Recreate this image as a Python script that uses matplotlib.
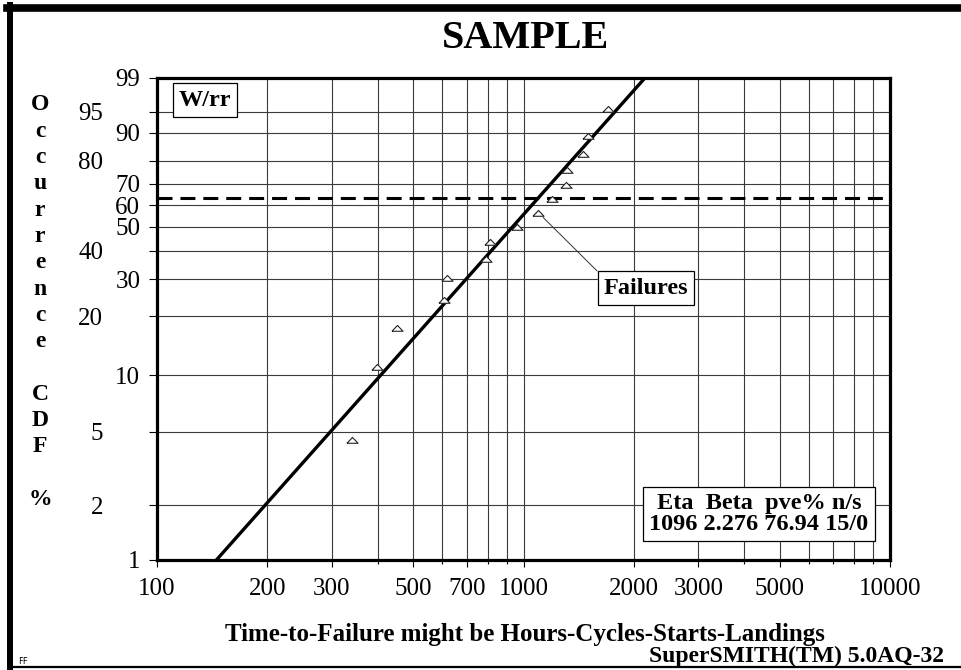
import numpy as np
import matplotlib
matplotlib.use('Agg')
import matplotlib.pyplot as plt
from matplotlib.ticker import NullFormatter, NullLocator
from matplotlib.lines import Line2D

# failure times and median ranks (%)
times = [340, 399, 451, 607, 620, 789, 810, 958, 1097, 1199, 1306, 1317, 1456, 1497, 1703]
ranks = [4.5, 11.0, 17.5, 24.0, 30.5, 37.0, 43.5, 50.0, 56.5, 63.0, 69.5, 76.0, 82.5, 89.0, 95.5]

# fit results
eta = 1096
beta = 2.276
pve = 76.94
n_fail = 15
n_susp = 0

x_ticks = [100, 200, 300, 500, 700, 1000, 2000, 3000, 5000, 10000]
x_minor = [400, 600, 800, 900, 4000, 6000, 7000, 8000, 9000]
y_ticks = [1, 2, 5, 10, 20, 30, 40, 50, 60, 70, 80, 90, 95, 99]
y_left_col = [2, 5, 20, 40, 80, 95]   # labels pushed out to the left column

SERIF = 'Liberation Serif'
W, H = 961, 670


def fwd(p):
    p = np.clip(np.asarray(p, dtype=float), 1e-6, 100 - 1e-6)
    return np.log(-np.log(1 - p / 100.0))


def inv(w):
    return 100.0 * (1 - np.exp(-np.exp(w)))


def fx(px):
    return px / W


def fy(py):
    return 1 - py / H


fig = plt.figure(figsize=(9.61, 6.70), dpi=100)
ax = fig.add_axes([fx(157), fy(560), fx(890) - fx(157), fy(78) - fy(560)])

ax.set_xscale('log')
ax.set_yscale('function', functions=(fwd, inv))
ax.set_xlim(100, 10000)
ax.set_ylim(1, 99)

ax.set_xticks(x_ticks, [str(v) for v in x_ticks])
ax.set_xticks(x_minor, minor=True)
ax.xaxis.set_minor_formatter(NullFormatter())
ax.set_yticks(y_ticks, [str(v) for v in y_ticks])
ax.yaxis.set_minor_locator(NullLocator())

ax.grid(True, which='both', axis='x', color='#3a3a3a', lw=0.8)
ax.grid(True, which='major', axis='y', color='#3a3a3a', lw=0.8)
ax.set_axisbelow(True)

for sp in ax.spines.values():
    sp.set_linewidth(2.3)
    sp.set_color('black')

ax.tick_params(axis='x', which='major', length=5, width=0.8, pad=8,
               labelsize=18, labelfontfamily=SERIF)
ax.tick_params(axis='x', which='minor', length=3, width=0.8)
ax.tick_params(axis='y', which='major', length=5.8, width=0.8,
               labelsize=18, labelfontfamily=SERIF)
for tk, val in zip(ax.yaxis.get_major_ticks(), y_ticks):
    tk.set_pad(33.0 if val in y_left_col else 6.2)

# Weibull fit line from eta/beta across the full probability range
f_ends = np.array([1, 99])
t_ends = eta * (-np.log(1 - f_ends / 100.0)) ** (1 / beta)
ax.plot(t_ends, f_ends, color='black', lw=2.4, zorder=3)

# characteristic life line (63.2%)
ax.axhline(63.2, color='black', lw=2.2, ls=(0, (4.9, 2.6)), zorder=3)

tri = [(-1, -0.5), (1, -0.5), (0, 0.55), (-1, -0.5)]
ax.plot(times, ranks, ls='none', marker=tri, ms=8, mfc='white',
        mec='#222222', mew=0.8, zorder=4)

box = dict(boxstyle='square,pad=0.25', fc='white', ec='black', lw=0.9)

ax.annotate('Failures', xy=(times[8], ranks[8]), xytext=(646, H - 288),
            textcoords='figure pixels', ha='center', va='center',
            fontsize=17.5, fontweight='bold', family=SERIF, bbox=box,
            arrowprops=dict(arrowstyle='-', color='#333333', lw=0.7,
                            relpos=(0, 1), shrinkA=0, shrinkB=5),
            zorder=5)

fig.text(fx(205), fy(100), 'W/rr', ha='center', va='center', fontsize=17.5,
         fontweight='bold', family=SERIF, bbox=box, zorder=5)

stats = 'Eta  Beta  pve% n/s\n' + '%d %.3f %.2f %d/%d' % (eta, beta, pve, n_fail, n_susp)
fig.text(fx(759), fy(514), stats, ha='center', va='center', fontsize=17.5,
         fontweight='bold', family=SERIF, linespacing=0.95, bbox=box, zorder=5)

fig.text(fx(526), fy(38), 'SAMPLE', ha='center', va='center', fontsize=29,
         fontweight='bold', family=SERIF)

# stacked vertical y label
ylab = 'Occurrence CDF %'
for i, ch in enumerate(ylab):
    if ch == ' ':
        continue
    fig.text(fx(40), fy(105 + i * 26.3), ch, ha='center', va='center',
             fontsize=17, fontweight='bold', family=SERIF)

fig.text(fx(525), fy(635), 'Time-to-Failure might be Hours-Cycles-Starts-Landings',
         ha='center', va='center', fontsize=18, fontweight='bold', family=SERIF)
fig.text(fx(944), fy(656), 'SuperSMITH(TM) 5.0AQ-32', ha='right', va='center',
         fontsize=17, fontweight='bold', family=SERIF)
fig.text(fx(18), fy(661), 'FF', ha='left', va='center', fontsize=6,
         family='DejaVu Sans')

# outer frame (top, left, bottom)
fig.add_artist(Line2D([fx(7), 1.0], [fy(8), fy(8)], color='black', lw=5.5,
                      transform=fig.transFigure))
fig.add_artist(Line2D([fx(10), fx(10)], [fy(5), fy(668)], color='black', lw=4.3,
                      transform=fig.transFigure))
fig.add_artist(Line2D([fx(10), 1.0], [fy(667), fy(667)], color='black', lw=1.6,
                      transform=fig.transFigure))

fig.savefig('out.png', dpi=100)
